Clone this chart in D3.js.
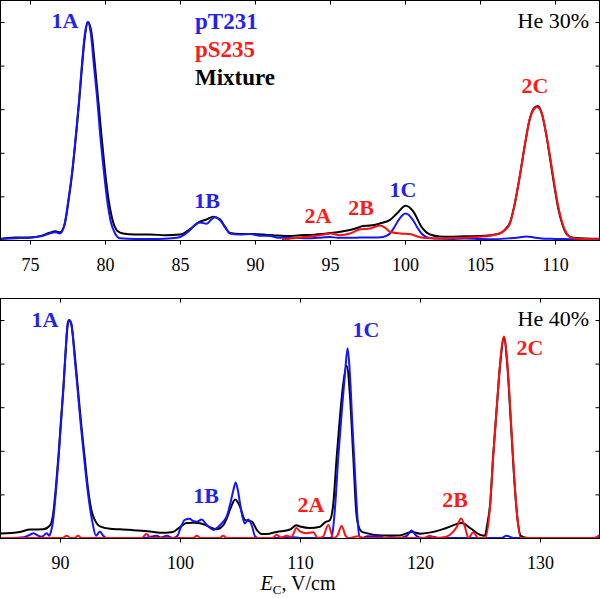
<!DOCTYPE html>
<html><head><meta charset="utf-8">
<script src="https://cdn.jsdelivr.net/npm/d3@7"></script>
<style>body{margin:0;background:#fff}svg{display:block}
svg text{font-family:"Liberation Serif","Times New Roman","DejaVu Serif",serif !important;}
</style>
</head><body><svg id="c" width="600" height="598"></svg>
<script>
// ---------- DATA (E_C in V/cm, normalized intensity) ----------
const top_pT231 = [[73,0.005],[74,0.008],[75,0.01],[75.8,0.018],[76.3,0.03],[76.7,0.035],[77.0,0.03],[77.3,0.07],[77.55,0.18],[77.85,0.336],[78.07,0.49],[78.27,0.64],[78.45,0.795],[78.67,0.95],[78.85,1.0],[79.05,0.95],[79.27,0.795],[79.49,0.64],[79.67,0.49],[79.89,0.336],[80.15,0.18],[80.4,0.08],[80.67,0.03],[81.0,0.008],[82,0.005],[83,0.005],[84,0.006],[84.8,0.01],[85.3,0.025],[85.67,0.046],[86.0,0.07],[86.33,0.08],[86.78,0.075],[87.1,0.095],[87.33,0.104],[87.67,0.09],[88.0,0.06],[88.33,0.03],[89.0,0.025],[89.67,0.027],[90.33,0.02],[91,0.018],[91.67,0.01],[92.5,0.01],[93.5,0.008],[94.5,0.012],[95,0.014],[95.5,0.01],[96.5,0.01],[97.5,0.012],[98.2,0.012],[98.6,0.015],[99.0,0.03],[99.3,0.06],[99.6,0.095],[100.05,0.122],[100.5,0.095],[100.8,0.06],[101.1,0.03],[101.5,0.012],[102,0.007],[103,0.005],[104,0.007],[105,0.005],[106,0.004],[107,0.008],[107.6,0.012],[108.1,0.016],[108.6,0.012],[109.3,0.006],[110,0.005],[111,0.004],[112,0.003],[113,0.003]];
const top_pS235 = [[91.8,0.0],[92.5,0.008],[93,0.012],[93.5,0.015],[94.1,0.02],[94.6,0.025],[95,0.03],[95.67,0.022],[96.33,0.03],[97,0.049],[97.67,0.053],[98.33,0.067],[98.7,0.055],[99,0.038],[99.67,0.03],[100.33,0.027],[101,0.013],[101.67,0.008],[102.33,0.007],[103.67,0.01],[105,0.015],[105.7,0.02],[106.33,0.03],[106.7,0.048],[107,0.076],[107.3,0.16],[107.67,0.30],[108.0,0.44],[108.3,0.55],[108.6,0.6],[108.8,0.61],[109.1,0.585],[109.4,0.49],[109.7,0.37],[109.95,0.26],[110.2,0.16],[110.5,0.075],[110.78,0.03],[111.2,0.008],[112,0.005],[113,0.004]];
const top_mixture = [[73,0.005],[74,0.012],[75,0.012],[75.8,0.02],[76.3,0.033],[76.7,0.04],[77.0,0.035],[77.3,0.07],[77.55,0.17],[77.85,0.33],[78.07,0.48],[78.27,0.63],[78.45,0.78],[78.67,0.94],[78.87,1.0],[79.1,0.95],[79.33,0.8],[79.55,0.64],[79.75,0.49],[79.97,0.336],[80.25,0.18],[80.55,0.08],[80.85,0.04],[81.2,0.03],[82,0.025],[83,0.025],[84,0.022],[85,0.025],[85.67,0.05],[86.33,0.084],[86.8,0.095],[87.2,0.107],[87.67,0.095],[88.0,0.06],[88.33,0.032],[89,0.028],[89.67,0.028],[90.5,0.025],[91.2,0.022],[92.3,0.018],[93,0.022],[93.67,0.023],[94.5,0.028],[95,0.032],[95.7,0.038],[96.33,0.046],[96.8,0.055],[97.2,0.064],[97.67,0.066],[98.33,0.076],[99,0.092],[99.44,0.12],[100.05,0.157],[100.56,0.13],[101.1,0.06],[101.67,0.025],[102.33,0.016],[103,0.015],[104,0.017],[105,0.018],[105.7,0.022],[106.3,0.03],[106.7,0.05],[107.0,0.08],[107.3,0.16],[107.67,0.30],[108.0,0.44],[108.3,0.55],[108.6,0.605],[108.85,0.615],[109.1,0.585],[109.4,0.49],[109.7,0.36],[109.95,0.25],[110.2,0.15],[110.5,0.07],[110.8,0.025],[111.2,0.01],[112,0.007],[113,0.006]];

const bot_pT231 = [[85,0.0],[86,0.0],[87,0.003],[87.5,0.015],[87.78,0.022],[88.2,0.01],[88.5,0.006],[88.9,0.022],[89.1,0.01],[89.25,0.03],[89.39,0.067],[89.67,0.22],[89.89,0.373],[90.08,0.526],[90.28,0.679],[90.44,0.83],[90.64,0.985],[90.75,1.0],[90.94,0.985],[91.22,0.83],[91.47,0.679],[91.72,0.526],[92.0,0.373],[92.3,0.22],[92.72,0.067],[93.0,0.01],[93.33,0.03],[93.6,0.01],[93.9,0.0],[95,0.0],[97,0.0],[97.8,0.008],[98.06,0.01],[98.4,0.002],[98.9,0.01],[99.4,0.0],[99.8,0.01],[100,0.04],[100.4,0.083],[100.8,0.088],[101.1,0.078],[101.4,0.075],[101.8,0.085],[102.2,0.062],[102.8,0.037],[103.2,0.052],[103.6,0.075],[103.9,0.1],[104.2,0.16],[104.45,0.22],[104.64,0.255],[104.82,0.22],[105.0,0.16],[105.2,0.1],[105.4,0.067],[105.7,0.085],[106.0,0.055],[106.25,0.008],[106.5,0.0],[108,0.0],[109.4,0.004],[110,0.0],[112.5,0.0],[112.64,0.005],[112.92,0.14],[113.19,0.373],[113.47,0.572],[113.75,0.755],[113.97,0.87],[114.17,0.74],[114.36,0.526],[114.58,0.298],[114.78,0.1],[114.94,0.008],[115.2,0.0],[115.6,0.008],[116.7,0.008],[117.0,0.0],[117.6,0.005],[118.2,0.0],[118.9,0.01],[119.3,0.034],[119.7,0.01],[120.2,0.0],[121.1,0.006],[121.6,0.0],[126.8,0.0],[127.2,0.01],[127.8,0.0],[134.5,0.0],[135,0.005]];
const bot_pS235 = [[85,0.0],[90.2,0.0],[90.56,0.01],[90.9,0.0],[91.2,0.0],[91.5,0.01],[91.8,0.0],[96.8,0.0],[97.2,0.018],[97.6,0.0],[101.1,0.0],[101.4,0.01],[101.7,0.0],[103.3,0.0],[103.6,0.01],[103.9,0.0],[107.7,0.0],[108.06,0.015],[108.4,0.002],[108.9,0.01],[109.3,0.005],[109.7,0.046],[110,0.03],[110.56,0.022],[111.1,0.026],[111.5,0.0],[111.9,0.005],[112.36,0.06],[112.78,0.0],[113.1,0.01],[113.47,0.055],[113.8,0.01],[114.03,0.0],[114.86,0.008],[115.3,0.0],[120.4,0.0],[120.8,0.01],[121.25,0.0],[122.1,0.005],[122.5,0.015],[123.06,0.05],[123.42,0.09],[123.75,0.05],[124.03,0.0],[124.44,0.026],[124.86,0.0],[125.42,0.0],[125.83,0.14],[126.1,0.373],[126.4,0.6],[126.67,0.8],[127.0,0.924],[127.28,0.8],[127.56,0.556],[127.83,0.298],[128.1,0.1],[128.39,0.0],[134.5,0.0],[135,0.015]];
const bot_mixture = [[85,0.021],[86.67,0.028],[87.5,0.039],[88.6,0.04],[89.17,0.058],[89.4,0.1],[89.67,0.24],[89.89,0.39],[90.08,0.54],[90.28,0.69],[90.44,0.83],[90.64,0.975],[90.78,1.0],[90.96,0.975],[91.25,0.83],[91.5,0.68],[91.76,0.526],[92.05,0.373],[92.35,0.22],[92.65,0.12],[92.9,0.083],[93.33,0.053],[94.17,0.042],[95,0.04],[96.1,0.036],[97.5,0.03],[98.33,0.024],[99.4,0.028],[100,0.05],[100.56,0.069],[101.2,0.07],[101.67,0.068],[102.2,0.057],[103.05,0.04],[103.6,0.058],[103.9,0.09],[104.2,0.135],[104.6,0.177],[105,0.144],[105.4,0.083],[106,0.075],[106.4,0.037],[106.8,0.018],[107.2,0.018],[108.06,0.028],[109.17,0.039],[109.7,0.058],[110,0.053],[110.83,0.046],[111.67,0.052],[112.08,0.072],[112.5,0.083],[112.78,0.16],[113.06,0.373],[113.33,0.556],[113.61,0.71],[113.89,0.79],[114.17,0.648],[114.44,0.373],[114.72,0.1],[115,0.038],[115.28,0.026],[116.9,0.012],[118.33,0.012],[119.3,0.028],[120,0.02],[121.1,0.028],[122.2,0.046],[123.47,0.069],[124.17,0.046],[125,0.015],[125.4,0.01],[125.6,0.06],[125.85,0.16],[126.1,0.38],[126.4,0.6],[126.67,0.79],[127.0,0.916],[127.28,0.79],[127.56,0.54],[127.83,0.29],[128.1,0.1],[128.4,0.01],[129,0.0],[135,0.0]];

const topXTicks = [75,80,85,90,95,100,105,110];
const botXTicks = [90,100,110,120,130];
const yTicks = [0.2,0.4,0.6,0.8,1.0];
const topXDomain = [73,113];
const botXDomain = [85,135];

// peak annotations: [text, series, E, intensity]
const topPeaks = [["1A","T",77.33,0.972],["1B","T",86.8,0.147],["2A","S",94.2,0.078],["2B","S",97.07,0.115],["1C","T",99.87,0.197],["2C","S",108.67,0.674]];
const botPeaks = [["1A","T",88.75,0.968],["1B","T",102.17,0.161],["2A","S",110.92,0.119],["1C","T",115.5,0.922],["2B","S",122.92,0.142],["2C","S",129.17,0.839]];
const legendNames = ["pT231","pS235","Mixture"];
const panelTitles = ["He 30%","He 40%"];

// ---------- DRAWING ----------
const BLUE = "#1414ff", RED = "#ff0f0f", BLACK = "#000";
const LBLUE = "#2323ee", LRED = "#ff1a1a";
const svg = d3.select("#c");
const serif = '"Liberation Serif","Times New Roman","DejaVu Serif",serif';

function panel(cfg){
  const {x0,x1,yTop,yBase,xDomain,xTicks,series,peaks,title,id} = cfg;
  const x = d3.scaleLinear().domain(xDomain).range([x0,x1]);
  const y = d3.scaleLinear().domain([0,1]).range([yBase, yBase-218]);
  const g = svg.append("g");
  g.append("clipPath").attr("id",id).append("rect")
    .attr("x",x0).attr("y",yTop).attr("width",x1-x0).attr("height",yBase-yTop+1);
  const line = d3.line().x(d=>x(d[0])).y(d=>y(d[1])).curve(d3.curveMonotoneX);
  const cg = g.append("g").attr("clip-path",`url(#${id})`);
  series.forEach(s=>{
    cg.append("path").datum(s.data).attr("d",line)
      .attr("fill","none").attr("stroke",s.color).attr("stroke-width",2)
      .attr("stroke-linejoin","round");
  });
  g.append("rect").attr("x",x0+0.5).attr("y",yTop+0.5).attr("width",x1-x0-1).attr("height",yBase-yTop)
    .attr("fill","none").attr("stroke","#000").attr("stroke-width",1);
  const bx = g.append("g").attr("transform",`translate(0,${yBase+0.5})`)
    .call(d3.axisBottom(x).tickValues(xTicks).tickSize(4).tickPadding(14).tickFormat(d3.format("d")));
  bx.select(".domain").remove();
  bx.selectAll("text").style("font-family",serif).style("font-size","18px").attr("fill","#000");
  const tx = g.append("g").attr("transform",`translate(0,${yTop+0.5})`)
    .call(d3.axisBottom(x).tickValues(xTicks).tickSize(4).tickFormat(""));
  tx.select(".domain").remove();
  const ly = g.append("g").attr("transform",`translate(${x0+0.5},0)`)
    .call(d3.axisRight(y).tickValues(yTicks).tickSize(4).tickFormat(""));
  ly.select(".domain").remove();
  const ry = g.append("g").attr("transform",`translate(${x1-0.5},0)`)
    .call(d3.axisLeft(y).tickValues(yTicks).tickSize(4).tickFormat(""));
  ry.select(".domain").remove();
  g.selectAll("text.pk").data(peaks).enter().append("text").attr("class","pk")
    .attr("x",d=>x(d[2])).attr("y",d=>y(d[3]))
    .attr("text-anchor","middle").style("font-family",serif).style("font-weight","bold")
    .style("font-size","22px").attr("fill",d=>d[1]==="T"?LBLUE:LRED).text(d=>d[0]);
  g.append("text").attr("x",x1-11).attr("y",yTop+28).attr("text-anchor","end")
    .style("font-family",serif).style("font-size","22px").attr("fill","#000").text(title);
  return {x,y,g};
}

panel({id:"cp1",x0:0,x1:600,yTop:0,yBase:240,xDomain:topXDomain,xTicks:topXTicks,
  series:[{data:top_mixture,color:BLACK},{data:top_pT231,color:BLUE},{data:top_pS235,color:RED}],
  peaks:topPeaks,title:panelTitles[0]});
panel({id:"cp2",x0:0,x1:600,yTop:298,yBase:538,xDomain:botXDomain,xTicks:botXTicks,
  series:[{data:bot_mixture,color:BLACK},{data:bot_pT231,color:BLUE},{data:bot_pS235,color:RED}],
  peaks:botPeaks,title:panelTitles[1]});

const legColors = [LBLUE,LRED,BLACK];
svg.append("g").selectAll("text").data(legendNames).enter().append("text")
  .attr("x",195).attr("y",(d,i)=>29+i*28)
  .style("font-family",serif).style("font-weight","bold").style("font-size","23px")
  .attr("fill",(d,i)=>legColors[i]).text(d=>d);

const t = svg.append("text").attr("x",298).attr("y",590).attr("text-anchor","middle")
  .style("font-family",serif).style("font-size","20px").attr("fill","#000");
t.append("tspan").style("font-style","italic").text("E");
t.append("tspan").style("font-size","13px").attr("dy",4).text("C");
t.append("tspan").attr("dy",-4).text(", V/cm");
</script></body></html>
